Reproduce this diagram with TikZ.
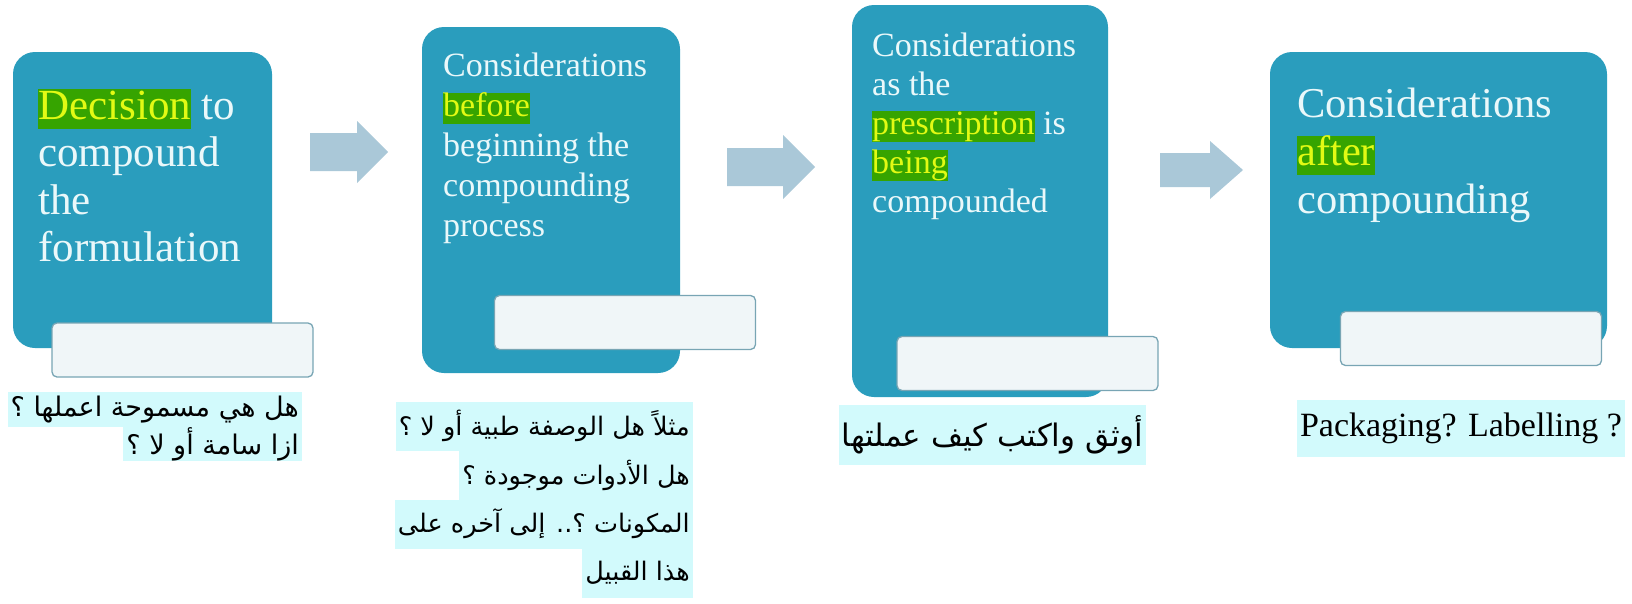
\documentclass[tikz,border=0pt]{standalone}
\usepackage{fontspec}
\setmainfont{Liberation Serif}
\newfontfamily\arabicfont[Script=Arabic]{DejaVu Sans}
\TeXXeTstate=1
\usetikzlibrary{positioning}
\definecolor{kasten}{RGB}{42,157,189}
\definecolor{kasten-text}{RGB}{234,248,250}
\definecolor{pfeilblau}{RGB}{170,200,216}
\definecolor{markgruen}{RGB}{54,164,0}
\definecolor{markgelb}{RGB}{226,250,20}
\definecolor{leiste}{RGB}{240,246,248}
\definecolor{leiste-rand}{RGB}{120,165,180}
\definecolor{markcyan}{RGB}{210,250,252}
\newcommand{\hlwort}[1]{{\setlength{\fboxsep}{0pt}\colorbox{markgruen}{\color{markgelb}\rule[-0.22em]{0pt}{0.92em}#1}}}

\begin{document}
\begin{tikzpicture}[x=1pt,y=-1pt,
    kastenstil/.style={fill=kasten, rounded corners=22pt, inner sep=0pt},
    leistenstil/.style={fill=leiste, draw=leiste-rand, line width=1.3pt, rounded corners=5pt, inner sep=0pt},
    boxtext/.style={anchor=north west, align=left, inner sep=0pt, text=kasten-text},
    arzeile/.style={fill=markcyan, anchor=east, inner xsep=3pt, inner ysep=0pt, text=black,
        font=\arabicfont\fontsize{25.5}{30}\selectfont}]

    \useasboundingbox (0,0) rectangle (1632,603);

				\foreach \n/\x/\y/\w/\h in {1/142.5/200/259/296, 2/551/200/258/346, 3/980/201/256/392, 4/1438.5/200/337/296}{
					\node[kastenstil, minimum width=\w*1pt, minimum height=\h*1pt] (B\n) at (\x,\y) {};
			}
				\foreach \n/\x/\y in {1/182.5/350, 2/625/322.5, 3/1027.5/363.5, 4/1471/338.5}{
					\node[leistenstil, minimum width=261pt, minimum height=54pt] (W\n) at (\x,\y) {};
			}

				\foreach \a/\b/\c/\m/\s/\k in {310/357/388/152/19/31, 727/783/815/167/19/32, 1160/1210/1243/170/17/29}
				\fill[pfeilblau] (\a,\m-\s) -- (\b,\m-\s) -- (\b,\m-\k) -- (\c,\m) -- (\b,\m+\k) -- (\b,\m+\s) -- (\a,\m+\s) -- cycle;

    \node[boxtext, font=\fontsize{43}{47.5}\selectfont] (T1) at (38,89)
        {\hlwort{Decision} to\\compound\\the\\formulation};
    \node[boxtext, font=\fontsize{34}{40}\selectfont] (T2) at (443,53)
        {Considerations\\\hlwort{before}\\beginning the\\compounding\\process};
    \node[boxtext, font=\fontsize{34}{39}\selectfont] (T3) at (872,33)
        {Considerations\\as the\\\hlwort{prescription} is\\\hlwort{being}\\compounded};
    \node[boxtext, font=\fontsize{42.5}{48}\selectfont] (T4) at (1297,88)
        {Considerations\\\hlwort{after}\\compounding};

    % Notizen unter den Kaesten
    \node[arzeile, minimum height=35pt, font=\arabicfont\fontsize{27}{32}\selectfont] (N11) at (302,409.5) {\beginR هل هي مسموحة اعملها ؟\endR};
    \node[arzeile, minimum height=34pt, font=\arabicfont\fontsize{27}{32}\selectfont] (N12) at (302,444) {\beginR ازا سامة أو لا ؟\endR};

    \node[arzeile, minimum height=49pt] (N21) at (693,426) {\beginR مثلاً هل الوصفة طبية أو لا ؟\endR};
    \node[arzeile, minimum height=49pt] (N22) at (693,475) {\beginR هل الأدوات موجودة ؟\endR};
    \node[arzeile, minimum height=49pt] (N23) at (693,524) {\beginR المكونات ؟.. إلى آخره على\endR};
    \node[arzeile, minimum height=49pt] (N24) at (693,573) {\beginR هذا القبيل\endR};

    \node[arzeile, anchor=center, minimum width=305pt, minimum height=60pt, font=\arabicfont\fontsize{31}{36}\selectfont] (N3) at (992.5,435) {\beginR أوثق واكتب كيف عملتها\endR};

    \node[fill=markcyan, minimum width=328pt, minimum height=57pt, inner sep=0pt, font=\fontsize{34}{40}\selectfont] (N4) at (1461,428.5) {Packaging? Labelling ?};

\end{tikzpicture}
\end{document}
